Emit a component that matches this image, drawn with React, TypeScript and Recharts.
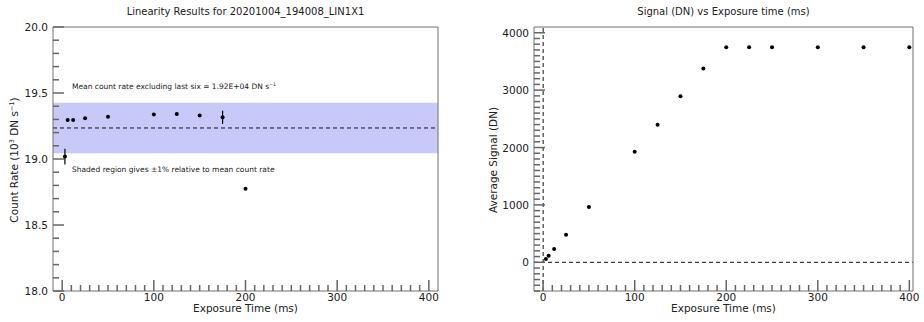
import React from 'react';
import { ComposedChart, Scatter, XAxis, YAxis, ReferenceArea, ReferenceLine, ErrorBar } from 'recharts';

// left panel: count rate vs exposure
const exposureLeft = [3, 6, 12, 25, 50, 100, 125, 150, 175, 200];
const countRate = [19.018, 19.295, 19.295, 19.308, 19.32, 19.338, 19.34, 19.33, 19.316, 18.775];
const countErr = [0.06, 0, 0, 0, 0, 0, 0, 0, 0.05, 0];
const meanRate = 19.235;
const bandLow = 19.043;
const bandHigh = 19.427;

// right panel: average signal vs exposure
const exposureRight = [3, 6, 12, 25, 50, 100, 125, 150, 175, 200, 225, 250, 300, 350, 400];
const avgSignal = [57, 115, 231, 481, 963, 1925, 2395, 2893, 3375, 3745, 3745, 3745, 3745, 3745, 3745];

const xMajorLabels = [0, 100, 200, 300, 400];
const rateMajorLabels = [18.0, 18.5, 19.0, 19.5, 20.0];
const signalMajorLabels = [0, 1000, 2000, 3000, 4000];

const FONT = '"DejaVu Sans", sans-serif';
const FRAME = '#707070';
const TICK = '#666';
const INK = '#222';

const steps = (from: number, step: number, n: number) =>
  Array.from({ length: n }, (_, i) => Math.round((from + i * step) * 10) / 10);

const xTicks = steps(0, 10, 41);
const rateTicks = steps(18, 0.1, 21);
const signalTicks = steps(-500, 100, 46);

const isMajor = (v: number, majors: number[]) => majors.some((m) => Math.abs(m - v) < 1e-6);

// inward tick mark plus (for bottom/left) the label
function makeTick(side: 'bottom' | 'top' | 'left' | 'right', majors: number[], fmt?: (v: number) => string) {
  return (props: any) => {
    const { x, y, payload } = props;
    const v = payload.value;
    const major = isMajor(v, majors);
    const len = major ? 11 : 6;
    let x2 = x;
    let y2 = y;
    if (side === 'bottom') y2 = y - len;
    else if (side === 'top') y2 = y + len;
    else if (side === 'left') x2 = x + len;
    else x2 = x - len;
    let label = null;
    if (major && fmt && side === 'bottom')
      label = (
        <text x={x} y={y + 6} textAnchor="middle" dominantBaseline="central" fontSize={10.5} fill={INK} fontFamily={FONT}>
          {fmt(v)}
        </text>
      );
    if (major && fmt && side === 'left')
      label = (
        <text x={x - 5} y={y} textAnchor="end" dominantBaseline="central" fontSize={10.5} fill={INK} fontFamily={FONT}>
          {fmt(v)}
        </text>
      );
    return (
      <g>
        <line x1={x} y1={y} x2={x2} y2={y2} stroke={TICK} strokeWidth={1.5} />
        {label}
      </g>
    );
  };
}

const Dot = (props: any) => <circle cx={props.cx} cy={props.cy} r={2} fill="#000" />;

const leftData = exposureLeft.map((t, i) => ({ t, rate: countRate[i], err: countErr[i] }));
const rightData = exposureRight.map((t, i) => ({ t, signal: avgSignal[i] }));

const abs = (s: React.CSSProperties): React.CSSProperties => ({ position: 'absolute', fontFamily: FONT, color: INK, whiteSpace: 'nowrap', ...s });
const sup: React.CSSProperties = { fontSize: '0.62em', verticalAlign: 'super', lineHeight: 0 };

const axisCommon = {
  type: 'number' as const,
  interval: 0,
  tickSize: 0,
  tickMargin: 0,
  tickLine: false,
  axisLine: { stroke: FRAME },
};

const leftX: [number, number] = [-10, 410];
const leftY: [number, number] = [18, 20];
const rightX: [number, number] = [-10, 404];
const rightY: [number, number] = [-500, 4100];

export default function App() {
  return (
    <div style={{ position: 'absolute', left: 0, top: 0, width: 924, height: 322, background: '#fff', fontFamily: FONT }}>
      <div style={{ position: 'absolute', left: 0, top: 0 }}>
        <ComposedChart width={460} height={322} margin={{ top: 22, bottom: 11, left: 13, right: 17 }}>
          <ReferenceArea y1={bandLow} y2={bandHigh} fill="#c9c9f9" fillOpacity={1} stroke="none" />
          <ReferenceLine y={meanRate} stroke="#111" strokeDasharray="4 3" />
          <XAxis {...axisCommon} dataKey="t" domain={leftX} ticks={xTicks} height={20}
            tick={makeTick('bottom', xMajorLabels, (v) => String(v))} />
          <XAxis {...axisCommon} xAxisId="top" orientation="top" domain={leftX} ticks={xTicks} height={5}
            tick={makeTick('top', xMajorLabels)} />
          <YAxis {...axisCommon} domain={leftY} ticks={rateTicks} width={40}
            tick={makeTick('left', rateMajorLabels, (v) => v.toFixed(1))} />
          <YAxis {...axisCommon} yAxisId="r" orientation="right" domain={leftY} ticks={rateTicks} width={5}
            tick={makeTick('right', rateMajorLabels)} />
          <Scatter data={leftData} dataKey="rate" shape={Dot} isAnimationActive={false}>
            <ErrorBar dataKey="err" direction="y" width={0} stroke="#000" strokeWidth={1.2} />
          </Scatter>
        </ComposedChart>
      </div>
      <div style={{ position: 'absolute', left: 460, top: 0 }}>
        <ComposedChart width={464} height={322} margin={{ top: 22, bottom: 11, left: 34, right: 6 }}>
          <ReferenceLine y={0} stroke="#111" strokeDasharray="4 3" />
          <ReferenceLine x={0} stroke="#111" strokeDasharray="4 3" />
          <XAxis {...axisCommon} dataKey="t" domain={rightX} ticks={xTicks} height={20}
            tick={makeTick('bottom', xMajorLabels, (v) => String(v))} />
          <XAxis {...axisCommon} xAxisId="top" orientation="top" domain={rightX} ticks={xTicks} height={5}
            tick={makeTick('top', xMajorLabels)} />
          <YAxis {...axisCommon} domain={rightY} ticks={signalTicks} width={40}
            tick={makeTick('left', signalMajorLabels, (v) => String(v))} />
          <YAxis {...axisCommon} yAxisId="r" orientation="right" domain={rightY} ticks={signalTicks} width={5}
            tick={makeTick('right', signalMajorLabels)} />
          <Scatter data={rightData} dataKey="signal" shape={Dot} isAnimationActive={false} />
        </ComposedChart>
      </div>

      <div style={abs({ left: 53, width: 385, top: 5, fontSize: 10, lineHeight: '14px', textAlign: 'center' })}>
        Linearity Results for 20201004_194008_LIN1X1
      </div>
      <div style={abs({ left: 534, width: 379, top: 5, fontSize: 10, lineHeight: '14px', textAlign: 'center' })}>
        Signal (DN) vs Exposure time (ms)
      </div>
      <div style={abs({ left: 53, width: 385, top: 303, fontSize: 10.5, lineHeight: '11px', textAlign: 'center' })}>
        Exposure Time (ms)
      </div>
      <div style={abs({ left: 534, width: 379, top: 303, fontSize: 10.5, lineHeight: '11px', textAlign: 'center' })}>
        Exposure Time (ms)
      </div>
      <div style={abs({ left: 14, top: 160, fontSize: 10.5, lineHeight: '14px', transform: 'translate(-50%, -50%) rotate(-90deg)' })}>
        Count Rate (10<span style={sup}>3</span> DN s<span style={sup}>−1</span>)
      </div>
      <div style={abs({ left: 493, top: 160, fontSize: 10.5, lineHeight: '14px', transform: 'translate(-50%, -50%) rotate(-90deg)' })}>
        Average Signal (DN)
      </div>
      <div style={abs({ left: 72, top: 81, fontSize: 7.5, lineHeight: '12px' })}>
        Mean count rate excluding last six = 1.92E+04 DN s<span style={sup}>−1</span>
      </div>
      <div style={abs({ left: 72, top: 164, fontSize: 7.5, lineHeight: '12px' })}>
        Shaded region gives ±1% relative to mean count rate
      </div>
    </div>
  );
}
